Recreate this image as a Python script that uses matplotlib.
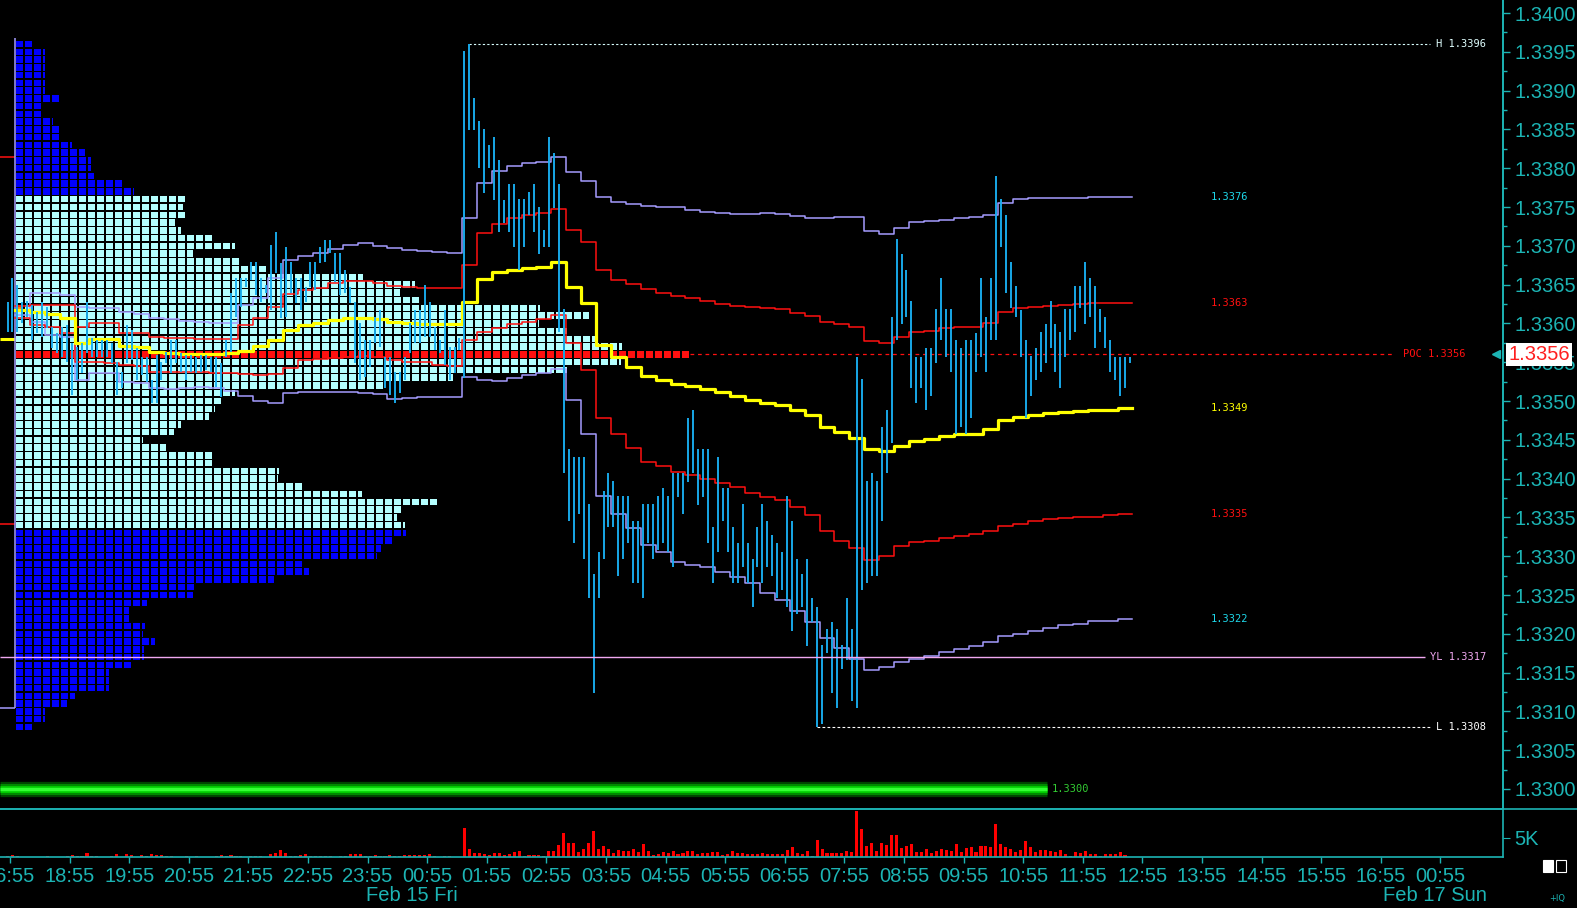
import numpy as np
import matplotlib.pyplot as plt
import matplotlib.transforms as mtrans
from matplotlib.lines import Line2D
from matplotlib.patches import Rectangle

plt.rcParams['font.family'] = ['Liberation Sans', 'DejaVu Sans']

# ---------------- data ----------------
# 5-minute bars, first bar sits half a slot before the 16:55 tick
bar_high = [
    1.33628, 1.33659,
    1.33650, 1.33628, 1.33629, 1.33624, 1.33615, 1.33628, 1.33621, 1.33595, 1.33588, 1.33595,
    1.33598, 1.33575, 1.33569, 1.33575, 1.33628, 1.33581, 1.33579, 1.33579, 1.33579, 1.33575,
    1.33550, 1.33537, 1.33598, 1.33591, 1.33568, 1.33557, 1.33557, 1.33527, 1.33559, 1.33550,
    1.33563, 1.33579, 1.33579, 1.33562, 1.33559, 1.33559, 1.33557, 1.33559, 1.33559, 1.33557,
    1.33557, 1.33549, 1.33579, 1.33639, 1.33659, 1.33659, 1.33659, 1.33679, 1.33679, 1.33659,
    1.33650, 1.33701, 1.33718, 1.33678, 1.33698, 1.33679, 1.33659, 1.33659, 1.33647, 1.33679,
    1.33679, 1.33698, 1.33707, 1.33707, 1.33691, 1.33691, 1.33669, 1.33647, 1.33628, 1.33601,
    1.33579, 1.33579, 1.33608, 1.33617, 1.33557, 1.33557, 1.33537, 1.33537, 1.33557, 1.33601,
    1.33617, 1.33617, 1.33650, 1.33628, 1.33595, 1.33579, 1.33617, 1.33569, 1.33569, 1.33581,
    1.33951, 1.33960, 1.33890, 1.33861, 1.33851, 1.33830, 1.33840, 1.33811, 1.33759, 1.33780,
    1.33780, 1.33760, 1.33760, 1.33769, 1.33780, 1.33750, 1.33720, 1.33840, 1.33820, 1.33780,
    1.33618, 1.33438, 1.33428, 1.33428, 1.33428, 1.33367, 1.33277, 1.33306, 1.33384, 1.33407,
    1.33397, 1.33377, 1.33377, 1.33377, 1.33346, 1.33346, 1.33367, 1.33367, 1.33367, 1.33377,
    1.33388, 1.33377, 1.33407, 1.33407, 1.33407, 1.33478, 1.33488, 1.33438, 1.33438, 1.33438,
    1.33337, 1.33428, 1.33388, 1.33388, 1.33337, 1.33317, 1.33367, 1.33317, 1.33296, 1.33337,
    1.33367, 1.33346, 1.33327, 1.33317, 1.33305, 1.33377, 1.33346, 1.33296, 1.33277, 1.33296,
    1.33246, 1.33235, 1.33185, 1.33206, 1.33215, 1.33206, 1.33185, 1.33246, 1.33206, 1.33557,
    1.33528, 1.33397, 1.33407, 1.33397, 1.33467, 1.33488, 1.33608, 1.33709, 1.33690, 1.33669,
    1.33629, 1.33557, 1.33557, 1.33568, 1.33568, 1.33618, 1.33658, 1.33618, 1.33618, 1.33578,
    1.33568, 1.33578, 1.33578, 1.33587, 1.33658, 1.33608, 1.33658, 1.33790, 1.33760, 1.33740,
    1.33679, 1.33648, 1.33617, 1.33578, 1.33558, 1.33568, 1.33589, 1.33599, 1.33629, 1.33599,
    1.33589, 1.33618, 1.33618, 1.33648, 1.33648, 1.33679, 1.33658, 1.33648, 1.33618, 1.33608,
    1.33578, 1.33557, 1.33557, 1.33557, 1.33557,
]
bar_low = [
    1.33589, 1.33589,
    1.33589, 1.33601, 1.33608, 1.33579, 1.33588, 1.33582, 1.33594, 1.33568, 1.33562, 1.33557,
    1.33550, 1.33508, 1.33527, 1.33536, 1.33562, 1.33557, 1.33557, 1.33557, 1.33557, 1.33549,
    1.33508, 1.33517, 1.33549, 1.33553, 1.33527, 1.33534, 1.33524, 1.33497, 1.33497, 1.33527,
    1.33549, 1.33536, 1.33549, 1.33537, 1.33527, 1.33537, 1.33536, 1.33537, 1.33540, 1.33537,
    1.33518, 1.33505, 1.33557, 1.33563, 1.33608, 1.33621, 1.33647, 1.33656, 1.33637, 1.33628,
    1.33639, 1.33617, 1.33665, 1.33607, 1.33608, 1.33639, 1.33626, 1.33617, 1.33628, 1.33647,
    1.33643, 1.33678, 1.33679, 1.33691, 1.33653, 1.33637, 1.33639, 1.33626, 1.33549, 1.33527,
    1.33531, 1.33544, 1.33575, 1.33569, 1.33517, 1.33508, 1.33497, 1.33510, 1.33527, 1.33562,
    1.33575, 1.33575, 1.33582, 1.33582, 1.33566, 1.33562, 1.33546, 1.33527, 1.33536, 1.33566,
    1.33529, 1.33849, 1.33849, 1.33800, 1.33768, 1.33800, 1.33759, 1.33718, 1.33729, 1.33718,
    1.33698, 1.33669, 1.33698, 1.33740, 1.33718, 1.33689, 1.33698, 1.33698, 1.33749, 1.33589,
    1.33407, 1.33346, 1.33317, 1.33355, 1.33296, 1.33246, 1.33124, 1.33246, 1.33296, 1.33337,
    1.33337, 1.33275, 1.33296, 1.33317, 1.33265, 1.33265, 1.33246, 1.33317, 1.33296, 1.33308,
    1.33317, 1.33305, 1.33286, 1.33376, 1.33355, 1.33395, 1.33407, 1.33366, 1.33376, 1.33317,
    1.33265, 1.33305, 1.33346, 1.33305, 1.33265, 1.33265, 1.33286, 1.33265, 1.33234, 1.33286,
    1.33265, 1.33286, 1.33275, 1.33246, 1.33256, 1.33234, 1.33204, 1.33226, 1.33234, 1.33184,
    1.33215, 1.33080, 1.33084, 1.33175, 1.33124, 1.33105, 1.33155, 1.33166, 1.33114, 1.33105,
    1.33256, 1.33266, 1.33275, 1.33275, 1.33346, 1.33407, 1.33446, 1.33578, 1.33599, 1.33608,
    1.33517, 1.33497, 1.33517, 1.33488, 1.33507, 1.33549, 1.33578, 1.33557, 1.33537, 1.33458,
    1.33466, 1.33458, 1.33478, 1.33537, 1.33557, 1.33537, 1.33578, 1.33578, 1.33698, 1.33639,
    1.33620, 1.33608, 1.33557, 1.33478, 1.33507, 1.33527, 1.33537, 1.33549, 1.33568, 1.33537,
    1.33517, 1.33557, 1.33578, 1.33589, 1.33620, 1.33599, 1.33608, 1.33568, 1.33589, 1.33568,
    1.33537, 1.33527, 1.33507, 1.33517, 1.33549,
]
volume = [
    260, 530,
    260, 0, 0, 0, 0, 0, 260, 0, 0, 0,
    260, 530, 260, 260, 1050, 260, 260, 0, 0, 260,
    790, 0, 790, 530, 0, 530, 260, 790, 530, 530,
    260, 260, 0, 0, 260, 0, 260, 0, 0, 0,
    260, 530, 260, 530, 260, 260, 0, 260, 260, 260,
    0, 790, 1050, 1840, 1050, 260, 260, 530, 790, 260,
    260, 260, 260, 260, 0, 260, 260, 790, 790, 790,
    260, 260, 530, 260, 260, 530, 260, 260, 530, 530,
    530, 530, 530, 790, 260, 0, 260, 260, 0, 0,
    7630, 2100, 1050, 1050, 790, 530, 1050, 1050, 530, 790,
    1320, 1580, 260, 530, 530, 530, 260, 1580, 1580, 3160,
    6310, 3680, 3680, 1320, 2100, 3680, 6840, 2100, 2890, 2100,
    1050, 1840, 1580, 1580, 2100, 1320, 3420, 1580, 530, 790,
    1320, 1050, 1580, 790, 1050, 1580, 1580, 790, 1050, 1050,
    1320, 1320, 530, 790, 1580, 1050, 1050, 790, 790, 790,
    1050, 790, 790, 790, 790, 1840, 2630, 1050, 790, 1580,
    260, 4470, 2100, 1050, 1050, 1050, 1050, 1580, 1320, 12100,
    7360, 2890, 3680, 1580, 3680, 3160, 5790, 5790, 2370, 2890,
    3420, 1320, 1320, 2100, 1050, 1580, 2100, 1840, 1580, 3420,
    1320, 2370, 2630, 1320, 2890, 2890, 2630, 8680, 3420, 2630,
    2100, 1320, 1840, 4210, 2630, 1320, 1840, 1840, 1580, 1320,
    1840, 790, 260, 1320, 1050, 1580, 790, 790, 260, 790,
    790, 790, 1320, 530, 0,
]

# session VWAP and deviation bands, read every third bar
vwap = [
    1.33617, 1.33615, 1.33612, 1.33607, 1.33575, 1.33580, 1.33580, 1.33571, 1.33569, 1.33563,
    1.33562, 1.33560, 1.33560, 1.33560, 1.33562, 1.33564, 1.33571, 1.33578, 1.33591, 1.33598,
    1.33600, 1.33604, 1.33607, 1.33607, 1.33606, 1.33602, 1.33600, 1.33599, 1.33599, 1.33599,
    1.33627, 1.33657, 1.33666, 1.33669, 1.33671, 1.33673, 1.33679, 1.33647, 1.33626, 1.33572,
    1.33557, 1.33544, 1.33532, 1.33527, 1.33522, 1.33519, 1.33515, 1.33511, 1.33507, 1.33501,
    1.33498, 1.33495, 1.33488, 1.33482, 1.33466, 1.33460, 1.33452, 1.33438, 1.33435, 1.33442,
    1.33449, 1.33451, 1.33455, 1.33457, 1.33458, 1.33464, 1.33475, 1.33480, 1.33482, 1.33484,
    1.33486, 1.33487, 1.33489, 1.33489, 1.33491,
]
band1_up = [
    1.33622, 1.33624, 1.33624, 1.33624, 1.33595, 1.33600, 1.33600, 1.33587, 1.33587, 1.33582,
    1.33581, 1.33581, 1.33580, 1.33580, 1.33580, 1.33598, 1.33607, 1.33621, 1.33638, 1.33643,
    1.33646, 1.33652, 1.33655, 1.33655, 1.33652, 1.33648, 1.33647, 1.33646, 1.33646, 1.33646,
    1.33675, 1.33716, 1.33728, 1.33736, 1.33740, 1.33742, 1.33747, 1.33720, 1.33705, 1.33669,
    1.33656, 1.33651, 1.33644, 1.33639, 1.33635, 1.33633, 1.33629, 1.33625, 1.33622, 1.33621,
    1.33620, 1.33618, 1.33613, 1.33609, 1.33602, 1.33599, 1.33596, 1.33577, 1.33575, 1.33582,
    1.33589, 1.33590, 1.33594, 1.33595, 1.33596, 1.33600, 1.33615, 1.33620, 1.33621, 1.33622,
    1.33624, 1.33625, 1.33626, 1.33626, 1.33626,
]
band1_dn = [
    1.33607, 1.33598, 1.33596, 1.33587, 1.33550, 1.33550, 1.33549, 1.33546, 1.33545, 1.33538,
    1.33537, 1.33537, 1.33537, 1.33536, 1.33536, 1.33535, 1.33533, 1.33535, 1.33542, 1.33553,
    1.33554, 1.33555, 1.33557, 1.33558, 1.33557, 1.33553, 1.33550, 1.33550, 1.33547, 1.33545,
    1.33578, 1.33589, 1.33594, 1.33599, 1.33602, 1.33606, 1.33611, 1.33575, 1.33540, 1.33478,
    1.33457, 1.33440, 1.33422, 1.33416, 1.33408, 1.33404, 1.33400, 1.33394, 1.33389, 1.33382,
    1.33376, 1.33372, 1.33363, 1.33353, 1.33332, 1.33320, 1.33310, 1.33295, 1.33300, 1.33313,
    1.33318, 1.33320, 1.33323, 1.33326, 1.33328, 1.33333, 1.33339, 1.33342, 1.33345, 1.33348,
    1.33349, 1.33350, 1.33351, 1.33353, 1.33354,
]
band2_up = [
    1.33617, 1.33639, 1.33639, 1.33636, 1.33621, 1.33620, 1.33620, 1.33615, 1.33612, 1.33607,
    1.33606, 1.33603, 1.33602, 1.33600, 1.33600, 1.33624, 1.33633, 1.33658, 1.33682, 1.33687,
    1.33691, 1.33696, 1.33701, 1.33704, 1.33700, 1.33697, 1.33695, 1.33693, 1.33692, 1.33691,
    1.33736, 1.33781, 1.33796, 1.33803, 1.33807, 1.33808, 1.33814, 1.33795, 1.33784, 1.33763,
    1.33756, 1.33754, 1.33751, 1.33750, 1.33750, 1.33746, 1.33744, 1.33742, 1.33741, 1.33741,
    1.33742, 1.33741, 1.33738, 1.33736, 1.33736, 1.33737, 1.33737, 1.33719, 1.33715, 1.33723,
    1.33731, 1.33732, 1.33733, 1.33736, 1.33737, 1.33740, 1.33755, 1.33760, 1.33762, 1.33762,
    1.33762, 1.33762, 1.33763, 1.33763, 1.33763,
]
band2_dn = [
    1.33611, 1.33602, 1.33585, 1.33582, 1.33527, 1.33536, 1.33536, 1.33524, 1.33523, 1.33517,
    1.33515, 1.33517, 1.33518, 1.33517, 1.33513, 1.33506, 1.33500, 1.33497, 1.33510, 1.33511,
    1.33511, 1.33511, 1.33511, 1.33510, 1.33509, 1.33502, 1.33504, 1.33505, 1.33505, 1.33505,
    1.33531, 1.33527, 1.33526, 1.33529, 1.33533, 1.33536, 1.33541, 1.33501, 1.33457, 1.33378,
    1.33355, 1.33336, 1.33314, 1.33305, 1.33292, 1.33289, 1.33286, 1.33279, 1.33273, 1.33265,
    1.33253, 1.33243, 1.33230, 1.33215, 1.33195, 1.33182, 1.33168, 1.33153, 1.33157, 1.33164,
    1.33168, 1.33172, 1.33176, 1.33180, 1.33184, 1.33190, 1.33197, 1.33200, 1.33204, 1.33208,
    1.33211, 1.33213, 1.33216, 1.33217, 1.33219,
]

# previous session levels that end at the left edge
prev_vwap = 1.33580
prev_band1 = [1.33814, 1.33341]
prev_band2_dn = 1.33105
prev_band2_top = 1.33968

# market profile (TPO count per price row, 1 pip rows from the top)
profile_top = 1.3396
profile_width = [
    2.0, 3.3, 3.3, 3.3, 3.3, 3.3, 3.3, 4.9, 3.0, 3.0,
    4.1, 4.8, 4.9, 6.2, 7.7, 8.4, 8.4, 8.7, 11.9, 13.1,
    18.9, 18.6, 18.9, 17.7, 18.4, 21.9, 24.4, 19.7, 24.9, 27.8,
    38.6, 44.4, 42.7, 44.9, 58.3, 63.7, 58.1, 61.2, 64.6, 67.4,
    74.9, 67.2, 61.2, 48.6, 40.8, 24.4, 22.8, 22.1, 21.5, 18.4,
    17.6, 14.1, 16.7, 21.8, 21.8, 29.3, 29.1, 31.9, 38.5, 46.9,
    42.9, 42.4, 43.3, 43.4, 41.9, 40.6, 40.1, 31.8, 32.6, 28.7,
    19.9, 19.7, 14.6, 12.6, 12.6, 14.4, 14.1, 15.5, 14.2, 14.2,
    12.9, 10.4, 10.4, 10.4, 6.6, 5.7, 3.3, 3.3, 1.9,
]
poc_price = 1.3356
va_high = 1.3376
va_low = 1.3334
open_price = 1.3362

yest_low = 1.3317
green_level = 1.3300
last_price = 1.3356

hour_labels = ['16:55', '18:55', '19:55', '20:55', '21:55', '22:55', '23:55', '00:55',
               '01:55', '02:55', '03:55', '04:55', '05:55', '06:55', '07:55', '08:55',
               '09:55', '10:55', '11:55', '12:55', '13:55', '14:55', '15:55', '16:55', '00:55']
date_labels = [('Feb 15 Fri', 81), ('Feb 17 Sun', 287)]

# ---------------- style ----------------
CYAN = '#1cb4b4'
LBL_CYAN = '#1ed8ea'
BAR = '#19aef0'
YEL = '#ffff00'
RED = '#ff1010'
LAV = '#a59cff'
VA_CYAN = '#b4ffff'
OUT_BLUE = '#0000ff'
TICK_FS = 14.5

W, H = 1577, 908
px_slot = 59.6 / 12          # pixels per 5-minute slot
fig = plt.figure(figsize=(W / 100, H / 100), dpi=100, facecolor='black')

def rect(x0, y0, x1, y1):
    return [x0 / W, 1 - y1 / H, (x1 - x0) / W, (y1 - y0) / H]

main_rect = rect(0, 0, 1503, 809)
ylo = 1.34 - 796 / 77600
yhi = 1.34 + 13 / 77600
xlo = -10 / px_slot
xhi = (1503 - 10) / px_slot

# profile lives in its own axes underneath, x in TPO cells
pax = fig.add_axes(main_rect)
pax.set_facecolor('black')
pax.set_xlim(-15.7 / 9, (1503 - 15.7) / 9)
pax.set_ylim(ylo, yhi)
pax.axis('off')

row_h = 0.0001 * 0.84
for k, w in enumerate(profile_width):
    p = profile_top - k * 0.0001
    if abs(p - poc_price) < 5e-6:
        col = RED
    elif va_low - 5e-6 <= p <= va_high + 5e-6:
        col = VA_CYAN
    else:
        col = OUT_BLUE
    n = int(w)
    frac = w - n
    segs = [(i, 0.86) for i in range(n)]
    if frac > 0.05:
        segs.append((n, min(frac, 0.86)))
    pax.broken_barh(segs, (p - row_h / 2, row_h), facecolors=col, edgecolor='none')
    if abs(p - open_price) < 5e-6:
        pax.broken_barh([(0, 0.86)], (p - row_h / 2, row_h), facecolors='#ff8000')

ax = fig.add_axes(main_rect)
ax.set_facecolor('none')
ax.set_xlim(xlo, xhi)
ax.set_ylim(ylo, yhi)

slots = np.arange(len(bar_high)) - 0.5
session_start = 0.95

# previous session stubs
ax.hlines(prev_vwap, xlo, session_start, color=YEL, lw=2.2)
ax.hlines(prev_band1, xlo, session_start, color=RED, lw=1.1)
ax.hlines(prev_band2_dn, xlo, session_start, color=LAV, lw=1.1)
ax.vlines(session_start, prev_band2_dn, prev_band2_top, color=LAV, lw=1.1)

# bands and vwap as step lines
sx = 1.0 + 3 * np.arange(len(vwap))
sx = np.append(sx, sx[-1] + 3)
for series, col, lw in [(band2_up, LAV, 1.1), (band2_dn, LAV, 1.1),
                        (band1_up, RED, 1.1), (band1_dn, RED, 1.1), (vwap, YEL, 2.3)]:
    ax.plot(sx, np.append(series, series[-1]), drawstyle='steps-post', color=col, lw=lw,
            zorder=3)

ax.vlines(slots, bar_low, bar_high, colors=BAR, lw=1.35, zorder=4)

# high / low / yesterday low / poc reference lines
h_slot = slots[int(np.argmax(bar_high))]
l_slot = slots[int(np.argmin(bar_low))]
ax.hlines(max(bar_high), h_slot, 285.9, color='#d8ffff', lw=0.8, linestyles=(0, (2, 2)))
ax.hlines(min(bar_low), l_slot, 286.3, color='#ffffff', lw=0.8, linestyles=(0, (2.5, 2)))
ax.hlines(yest_low, xlo, 284.9, color='#f0a8f0', lw=1.0, zorder=5)
poc_end = xlo + (15.7 + 9 * max(profile_width)) / px_slot
ax.hlines(poc_price, poc_end, 278.8, color=RED, lw=0.9, linestyles=(0, (3, 3)))

small = dict(fontsize=7.5, family='DejaVu Sans Mono', va='center', ha='left')
ax.text(287.1, max(bar_high), 'H %.4f' % max(bar_high), color='#e0ffff', **small)
ax.text(287.1, min(bar_low), 'L %.4f' % min(bar_low), color='#ffffff', **small)
ax.text(285.9, yest_low, 'YL %.4f' % yest_low, color='#f0a8f0', **small)
ax.text(280.5, poc_price, 'POC %.4f' % poc_price, color=RED, **small)

for series, col in [(band2_up, LBL_CYAN), (band1_up, RED), (vwap, YEL),
                    (band1_dn, RED), (band2_dn, LBL_CYAN)]:
    ax.text(241.8, series[-1], '%.4f' % series[-1], color=col, **small)

# green glowing level
for lw, col in [(11, '#004400'), (8, '#008800'), (5, '#00cc00'), (2.5, '#33ff33')]:
    ax.hlines(green_level, xlo, 208.8, color=col, lw=lw, zorder=2)
ax.text(209.8, green_level, '%.4f' % green_level, color='#33cc33', **small)

# right price axis
for s in ['top', 'left', 'bottom']:
    ax.spines[s].set_visible(False)
ax.spines['right'].set_color(CYAN)
ax.spines['right'].set_linewidth(1.4)
ax.set_xticks([])
ax.yaxis.tick_right()
ax.set_yticks(np.arange(1.3300, 1.34001, 0.0005))
ax.set_yticks(np.arange(1.3300, 1.34001, 0.00025), minor=True)
ax.set_yticklabels(['%.4f' % v for v in np.arange(1.3300, 1.34001, 0.0005)])
ax.tick_params(axis='y', which='major', colors=CYAN, length=5, width=1, labelsize=TICK_FS, pad=3)
ax.tick_params(axis='y', which='minor', colors=CYAN, length=3, width=1)

trans = mtrans.blended_transform_factory(ax.transAxes, ax.transData)
ax.text(1.0035, last_price, '%.4f' % last_price, transform=trans, color='#ff2020',
        fontsize=TICK_FS, va='center', ha='left', zorder=10,
        bbox=dict(facecolor='white', edgecolor='none', pad=1.8))
ax.plot([0.9955], [last_price], marker='<', color=CYAN, ms=6, transform=trans, clip_on=False)

# volume panel
vax = fig.add_axes(rect(0, 809, 1503, 857))
vax.set_facecolor('black')
vax.set_xlim(xlo, xhi)
vax.set_ylim(0, 12620)
vax.bar(slots, volume, width=0.62, color='#ff0000')
for s in ['top', 'bottom', 'right']:
    vax.spines[s].set_color(CYAN)
    vax.spines[s].set_linewidth(1.2)
vax.spines['left'].set_visible(False)
vax.yaxis.tick_right()
vax.set_yticks([5000])
vax.set_yticklabels(['5K'])
vax.tick_params(axis='y', colors=CYAN, length=5, labelsize=TICK_FS, pad=3)
vax.set_xticks(12 * np.arange(len(hour_labels)))
vax.set_xticklabels(hour_labels)
vax.tick_params(axis='x', colors=CYAN, length=4, width=1, labelsize=TICK_FS, pad=3)
dtrans = mtrans.blended_transform_factory(vax.transData, vax.transAxes)
for txt, s in date_labels:
    vax.text(s, -0.8, txt, transform=dtrans, color=CYAN, fontsize=TICK_FS, ha='center', va='center')

fig.add_artist(Line2D([0, 1], [1 - 809 / H] * 2, color=CYAN, lw=1.2))
fig.add_artist(Rectangle((1543 / W, 1 - 872 / H), 10 / W, 12 / H, facecolor='white',
                         edgecolor='white', lw=0.8, transform=fig.transFigure))
fig.add_artist(Rectangle((1556 / W, 1 - 872 / H), 10 / W, 12 / H, facecolor='none',
                         edgecolor='white', lw=0.8, transform=fig.transFigure))
fig.text(1549 / W, 1 - 898 / H, '+IQ', color=CYAN, fontsize=6, va='center', family='DejaVu Sans')

fig.savefig('out.png', dpi=100, facecolor='black')
